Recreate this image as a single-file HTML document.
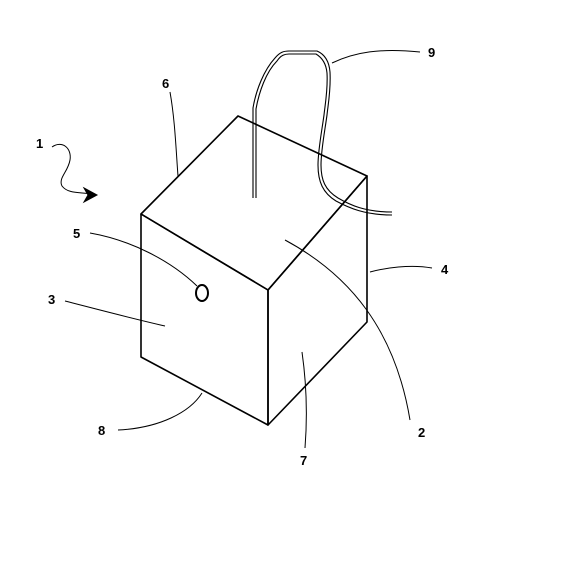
<!DOCTYPE html>
<html><head><meta charset="utf-8"><style>
html,body{margin:0;padding:0;background:#fff;}
svg{display:block}
text{font-family:"Liberation Sans",sans-serif;font-size:13px;font-weight:bold;fill:#000}
</style></head><body>
<svg width="564" height="576" viewBox="0 0 564 576">
<g fill="none" stroke="#000" stroke-width="1.6" stroke-linejoin="round">
  <polygon points="141,214 238,116 367,176 268,290"/>
  <polygon points="141,214 268,290 268,425 141,357"/>
  <polygon points="268,290 367,176 367,322 268,425"/>
</g>
<g fill="none" stroke="#000" stroke-width="1.1">
  <path d="M253,198 L253,108 C256,90 264,70 275,58 C280,52 284,51 289,51 L317,51 C324,54 329,60 330,72 C331,90 328,105 327,115 C325,130 321,150 321,165 C321,180 325,190 338,198 C350,205 365,212 392,212"/>
  <path d="M256,198 L256,109 C259,92 266,72 277,61 C281,55 285,54 289,54 L316,54 C321,57 326,62 327,73 C328,90 325,105 324,115 C322,130 318,150 318,165 C318,182 323,193 336,201 C349,208 365,215 392,215"/>
</g>
<g fill="none" stroke="#000" stroke-width="1">
  <path d="M332,63 C355,52 380,48 420,52"/>
  <path d="M170,92 C175,120 176,150 178,176"/>
  <path d="M52,147 C62,140 72,148 70,160 C68,172 58,178 62,186 C68,194 80,192 92,194"/>
  <path d="M84,188 L97,195 L84,202 L88,195 Z" fill="#000"/>
  <path d="M90,233 C130,240 170,260 197,286"/>
  <path d="M65,301 C100,310 130,318 165,326"/>
  <path d="M432,268 C410,264 385,268 370,272"/>
  <path d="M285,240 C350,275 395,330 410,420"/>
  <path d="M302,352 C306,380 308,410 305,448"/>
  <path d="M118,430 C160,428 190,412 202,393"/>
</g>
<ellipse cx="202" cy="293" rx="6" ry="8" fill="none" stroke="#000" stroke-width="2"/>
<text x="428" y="57">9</text>
<text x="162" y="88">6</text>
<text x="36" y="148">1</text>
<text x="73" y="238">5</text>
<text x="48" y="304">3</text>
<text x="441" y="274">4</text>
<text x="418" y="437">2</text>
<text x="300" y="465">7</text>
<text x="98" y="435">8</text>
</svg>
</body></html>
